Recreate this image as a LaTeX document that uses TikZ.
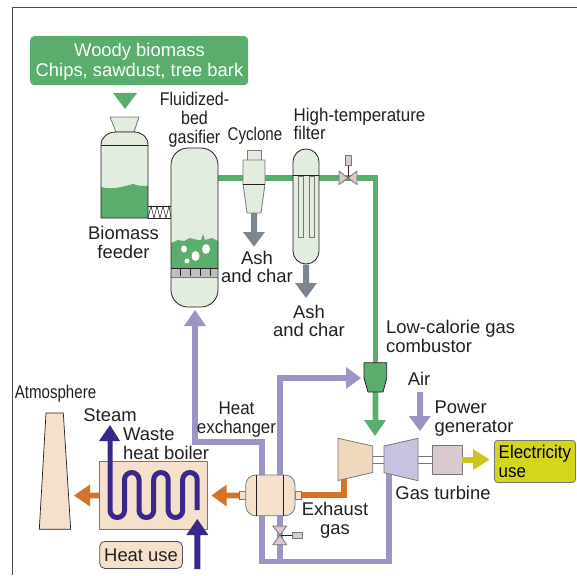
\documentclass[tikz,border=0pt]{standalone}
\usepackage{fontspec}
\setmainfont{Liberation Sans}
\newfontfamily\narrowa[FakeStretch=0.92]{Liberation Sans}
\newfontfamily\narrowb[FakeStretch=0.87]{Liberation Sans}
\newfontfamily\narrowc[FakeStretch=0.82]{Liberation Sans}
\definecolor{gr}{HTML}{5AAD6C}
\definecolor{lgr}{HTML}{E2ECDF}
\definecolor{pu}{HTML}{9A95C4}
\definecolor{lpu}{HTML}{C5C3E0}
\definecolor{orr}{HTML}{D57428}
\definecolor{pe}{HTML}{F5E1CB}
\definecolor{pe2}{HTML}{F0D8BC}
\definecolor{gy}{HTML}{7D8590}
\definecolor{ye}{HTML}{C9C41F}
\definecolor{ybox}{HTML}{D3D61B}
\definecolor{ma}{HTML}{D9C9CF}
\definecolor{dk}{HTML}{39288A}
\definecolor{tx}{HTML}{231F20}
\definecolor{gl}{HTML}{777777}
\tikzset{
 lab/.style={font=\fontsize{18.4}{18.8}\selectfont,text=tx,align=center,inner sep=0pt},
 laba/.style={lab,font=\narrowa\fontsize{18.4}{18.8}\selectfont},
 labb/.style={lab,font=\narrowb\fontsize{18.4}{18.8}\selectfont},
 labc/.style={lab,font=\narrowc\fontsize{18.4}{18.8}\selectfont},
 ol/.style={draw=tx,line width=.8pt,line join=round},
 gol/.style={draw=gl,line width=.8pt,line join=round},
 pipe/.style={line width=5.6pt},
}
\newcommand{\harrow}[5]{% colour, x-from, x-base, x-tip, y
 \fill[#1] (#2,#5-2.8) -- (#3,#5-2.8) -- (#3,#5-11) -- (#4,#5) -- (#3,#5+11) -- (#3,#5+2.8) -- (#2,#5+2.8) -- cycle;}
\newcommand{\varrow}[5]{% colour, y-from, y-base, y-tip, x
 \fill[#1] (#5-3,#2) -- (#5-3,#3) -- (#5-11,#3) -- (#5,#4) -- (#5+11,#3) -- (#5+3,#3) -- (#5+3,#2) -- cycle;}
\begin{document}
\begin{tikzpicture}[x=1pt,y=-1pt]
\useasboundingbox (0,0) rectangle (577,575);
\coordinate (frameA) at (12.4,575);
\coordinate (frameB) at (12.4,7.4);
\coordinate (frameC) at (577,7.4);
\draw[black!70,line width=.9pt] (frameA) -- (frameB) -- (frameC);

% Feedstock
\node[fill=gr,rounded corners=4pt,minimum width=218pt,minimum height=49pt,inner sep=0,anchor=north west] (woodbox) at (30,36) {};
\node[inner sep=0,text=white,align=center,font=\fontsize{18.4}{19.5}\selectfont] (wood) at (139.5,61.5) {Woody biomass\\Chips, sawdust, tree bark};
\fill[gr] (113,93) -- (137,93) -- (125,109) -- cycle;

% Pipes behind equipment
\draw[gr,pipe,line join=miter] (217,178) -- (375.5,178) -- (375.5,364);
\fill[gr] (372.7,392) -- (372.7,420) -- (364,420) -- (375,436) -- (386,420) -- (378.3,420) -- (378.3,392) -- cycle;
\draw[pu,pipe,line join=miter] (195,322) -- (195,442) -- (262,442) -- (262,561.5) -- (389,561.5) -- (389,474);
\draw[pu,pipe,line join=miter] (346,378) -- (280,378) -- (280,561.5);
\fill[pu] (346,367) -- (361,378) -- (346,389) -- cycle;
\fill[pu] (184,326) -- (195,310) -- (206,326) -- cycle;

% Feeder
\fill[lgr,gol] (110,117) -- (139,117) -- (134,132) -- (116,132) -- cycle;
\path[fill=lgr] (101,218) -- (101,145) .. controls (101,137) and (108,132) .. (116,132) -- (134,132) .. controls (142,132) and (148,137) .. (148,145) -- (148,218) -- cycle;
\fill[gr] (101,187) .. controls (112,190) and (122,187) .. (133,184) .. controls (138,186) and (143,186) .. (148,186) -- (148,218) -- (101,218) -- cycle;
\draw[ol] (101,218) -- (101,145) .. controls (101,137) and (108,132) .. (116,132) -- (134,132) .. controls (142,132) and (148,137) .. (148,145) -- (148,218) -- cycle;
\draw[ol] (101,145) -- (148,145);
% Screw
\draw[tx,line width=.6pt] (148,206) -- (171,206) (148,218) -- (171,218);
\draw[tx,line width=.5pt] (148,218) -- (151,206) -- (154,218) -- (157,206) -- (160,218) -- (163,206) -- (166,218) -- (169,206) -- (171,218);

% Gasifier
\fill[lgr,rounded corners=17pt] (171,148) rectangle (218,307);
\fill[gr] (171,243) -- (178,240) -- (184,241) -- (190,238) -- (198,240) -- (201,240) -- (203,234) -- (205,240) -- (212,238) -- (218,241) -- (218,268) -- (171,268) -- cycle;
\fill[white] (184,249) ellipse[x radius=3,y radius=3.5];
\fill[white] (195.5,256) ellipse[x radius=4,y radius=5];
\fill[white] (206,249) ellipse[x radius=4,y radius=5];
\fill[white] (187,261) ellipse[x radius=2.5,y radius=2.5];
\fill[black!25] (171,268) rectangle (218,278);
\draw[tx,line width=.6pt] (171,268) -- (218,268);
\foreach \x in {180.5,190.3,200,209.8}{\draw[tx,line width=.6pt] (\x,268) -- (\x,276);}
\draw[gl,line width=.8pt] (171,277) -- (218,277);
\draw[ol,rounded corners=17pt] (171,148) rectangle (218,307);

% Cyclone
\fill[lgr,gol] (247,150) rectangle (261,160);
\fill[lgr,gol] (243,160) -- (265,160) -- (265,184) -- (261,213) -- (247,213) -- (243,184) -- cycle;
\draw[ol] (243,184) -- (265,184);
\varrow{gy}{213}{232}{246.5}{254}

% Filter
\fill[lgr,ol,rounded corners=12.9pt] (293,149) rectangle (319,264);
\draw[gl,line width=.8pt] (298.5,176) rectangle (303,237);
\draw[gl,line width=.8pt] (309.5,176) rectangle (314,237);
\draw[ol] (293,175.7) -- (319,175.7);
\varrow{gy}{264.5}{283}{298}{306}

% Valve top
\draw[tx,line width=.7pt] (348,178) -- (348,165);
\fill[ma,gol] (345,155) rectangle (351,165);
\fill[ma,gol] (339,171) -- (348,178) -- (339,184.5) -- cycle;
\fill[ma,gol] (357,171) -- (348,178) -- (357,184.5) -- cycle;

% Combustor
\fill[gr,ol] (364,362.7) -- (386.7,362.7) -- (386.7,378) -- (383,392) -- (368,392) -- (364,378) -- cycle;

% Air
\fill[pu] (417,392) -- (417,416) -- (408.7,416) -- (420,431) -- (430.7,416) -- (423,416) -- (423,392) -- cycle;

% Orange exhaust
\draw[orr,pipe,line join=miter] (301,495) -- (344,495) -- (344,479);
\harrow{orr}{240}{226.7}{211.5}{495.5}
\harrow{orr}{103}{90}{74}{495.5}

% Turbine
\fill[white] (372,456) rectangle (385,463);
\draw[gl,line width=1pt] (372,456) -- (385,456) (372,463) -- (385,463);
\fill[white] (418,456) rectangle (433,463);
\draw[gl,line width=1pt] (418,456) -- (433,456) (418,463) -- (433,463);
\fill[pe2,gol] (338,438.3) -- (372.7,446) -- (372.7,472.5) -- (338,480.5) -- cycle;
\fill[lpu,gol] (384,446) -- (418,438.3) -- (418,480.7) -- (384,472.7) -- cycle;
\fill[ma,gol] (432,445) rectangle (462,474);
\fill[ye] (462,457) -- (473,457) -- (473,449) -- (489.5,459.5) -- (473,470) -- (473,463) -- (462,463) -- cycle;
\node[fill=ybox,draw=gl,line width=.8pt,rounded corners=3pt,minimum width=81pt,minimum height=42pt,inner sep=0,anchor=north west] (elec) at (494,440) {};
\node[laba,align=left,anchor=north west,text=black] (electxt) at (498.5,445) {Electricity\\use};

% Heat exchanger
\fill[pe,gol] (239.3,491) rectangle (246,499.3);
\fill[pe,gol] (295,491) rectangle (301.7,499.3);
\fill[pe,gol,rounded corners=10pt] (245.7,475) rectangle (295,515.7);
\draw[tx,line width=.8pt] (256.3,475) -- (256.3,515.7) (283.5,475) -- (283.5,515.7);

% Valve bottom
\draw[tx,line width=.7pt] (280,535) -- (292.3,535);
\fill[ma,gol] (292.3,532) rectangle (302.3,538);
\fill[ma,gol] (272.7,526) -- (286.7,526) -- (280,535) -- cycle;
\fill[ma,gol] (272.7,544.7) -- (286.7,544.7) -- (280,535) -- cycle;

% Boiler and stack
\fill[pe,gol] (99.5,461) rectangle (207,529.3);
\fill[pe,draw=tx,line width=.7pt] (46,413) -- (63.3,413) -- (70.7,529.3) -- (39.3,529.3) -- cycle;
\draw[dk,line width=5pt,rounded corners=7.2pt] (110,440) -- (110,517.5) -- (124.5,517.5) -- (124.5,472.5) -- (139,472.5) -- (139,517.5) -- (153.7,517.5) -- (153.7,472.5) -- (168.2,472.5) -- (168.2,517.5) -- (182.7,517.5) -- (182.7,472.5) -- (197.2,472.5) -- (197.2,510);
\fill[dk] (99,441) -- (110,425) -- (120,441) -- cycle;
\varrow{dk}{569}{535}{519}{197.3}
\node[fill=pe,draw=tx!80,line width=.8pt,rounded corners=5pt,minimum width=82.7pt,minimum height=27pt,inner sep=0,anchor=north west,font=\fontsize{18.4}{18.4}\selectfont,text=tx] (heatuse) at (99.3,541) {Heat use};

% Labels
\node[labb] (l1) at (194.5,119.5) {Fluidized-\\bed\\gasifier};
\node[labc] (l2) at (255,136) {Cyclone};
\node[laba,align=left,anchor=north west] (l3) at (293.5,107.5) {High-temperature\\filter};
\node[lab] (l4) at (123.5,242.5) {Biomass\\feeder};
\node[lab] (l5) at (257,267) {Ash\\and char};
\node[lab] (l6) at (309,321) {Ash\\and char};
\node[lab,align=left,anchor=north west] (l7) at (386,320) {Low-calorie gas\\combustor};
\node[lab] (l8) at (419,379) {Air};
\node[lab,align=left,anchor=north west] (l9) at (434.5,401) {Power\\generator};
\node[lab] (l10) at (443,493) {Gas turbine};
\node[lab] (l11) at (335,520.5) {Exhaust\\gas};
\node[laba] (l12) at (236.5,419.5) {Heat\\exchanger};
\node[lab,align=left,anchor=north west] (l13) at (123,428) {Waste\\heat boiler};
\node[lab] (l14) at (110,415) {Steam};
\node[labc] (l15) at (55.5,394) {Atmosphere};
\end{tikzpicture}
\end{document}
